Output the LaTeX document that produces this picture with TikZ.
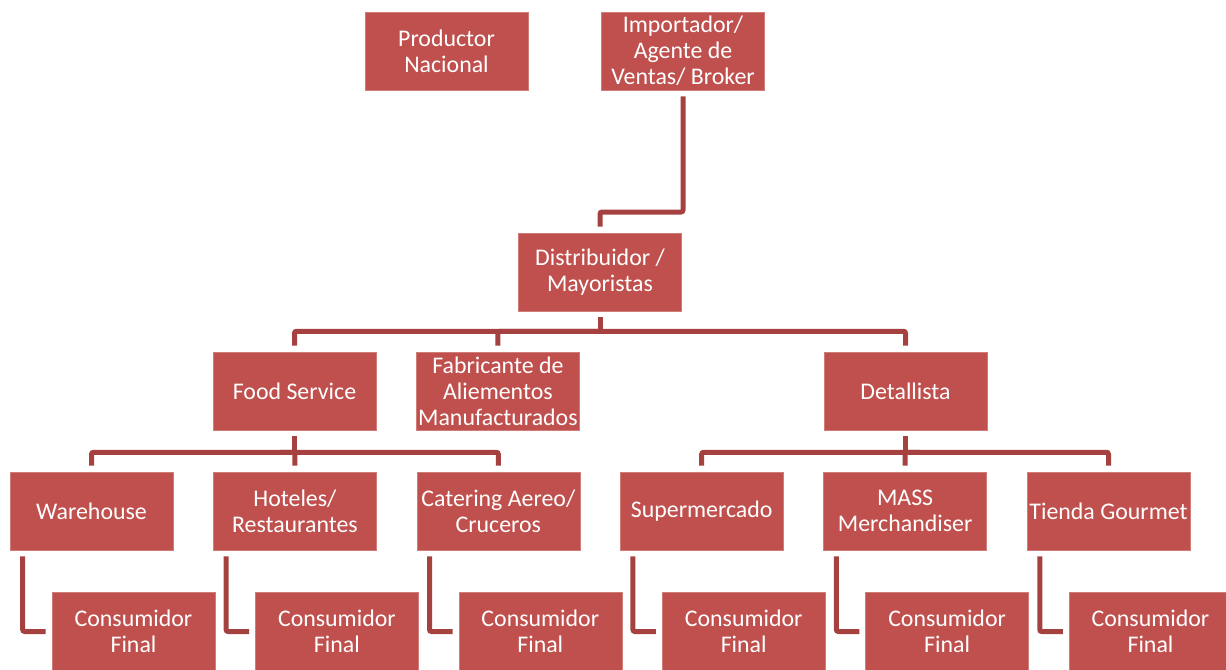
\documentclass[tikz,border=0pt]{standalone}
\usepackage{fontspec}
\setmainfont{Carlito}
\usetikzlibrary{positioning}
\definecolor{boxred}{HTML}{C0504D}
\definecolor{linered}{HTML}{A5423F}

\begin{document}
\begin{tikzpicture}[x=0.75pt, y=-0.75pt, node distance=29.9pt,
    box/.style={draw=boxred!75!white, line width=0.4pt, fill=boxred, text=white, rectangle,
      minimum width=122.25pt, minimum height=58.5pt, inner sep=1pt, align=center,
      font=\fontsize{17.9}{19.5}\selectfont},
    link/.style={draw=linered, line width=3.75pt, rounded corners=1.5pt},
    spaced/.style={shorten <=4.5pt, shorten >=4.5pt}]
        \useasboundingbox (0,0) rectangle (1226,669);

        % Draw the blocks
        \node (prod)   [box] at (446.5,51) {Productor\\Nacional};
        \node (imp)    [box] at (683,51) {Importador/\\Agente de\\Ventas/ Broker};
        \node (dist)   [box] at (600,272) {Distribuidor /\\Mayoristas};
        \node (food)   [box] at (294.5,391) {Food Service};
        \node (fab)    [box, right=of food] {Fabricante de\\Aliementos\\Manufacturados};
        \node (det)    [box] at (905.5,391) {Detallista};
        \node (ware)   [box] at (91.5,511) {Warehouse};
        \node (hotel)  [box, right=of ware] {Hoteles/\\Restaurantes};
        \node (cater)  [box, right=of hotel] {Catering Aereo/\\Cruceros};
        \node (super)  [box, right=of cater] {Supermercado};
        \node (mass)   [box, right=of super] {MASS\\Merchandiser};
        \node (tienda) [box, right=of mass] {Tienda Gourmet};

        % Final consumers
        \node (cons1) [box, below right=31.5pt and 31.5pt of ware.south west] {Consumidor\\Final};
        \node (cons2) [box, below right=31.5pt and 31.5pt of hotel.south west] {Consumidor\\Final};
        \node (cons3) [box, below right=31.5pt and 31.5pt of cater.south west] {Consumidor\\Final};
        \node (cons4) [box, below right=31.5pt and 31.5pt of super.south west] {Consumidor\\Final};
        \node (cons5) [box, below right=31.5pt and 31.5pt of mass.south west] {Consumidor\\Final};
        \node (cons6) [box, below right=31.5pt and 31.5pt of tienda.south west] {Consumidor\\Final};

        % Bend and bus points
        \coordinate (bend) at (600,212);
        \coordinate (busA) at ([yshift=-15pt]dist.south);
        \coordinate (busB) at ([yshift=-16.5pt]food.south);
        \coordinate (busC) at ([yshift=-16.5pt]det.south);

        % Draw the connecting lines
        \draw [link, spaced] (imp.south) |- (bend) -- (dist.north);

        \draw [link, shorten <=4.5pt] (dist.south) -- (busA);
        \draw [link, shorten >=4.5pt] (busA) -| (food.north);
        \draw [link, shorten >=4.5pt] (busA) -| (fab.north);
        \draw [link, shorten >=4.5pt] (busA) -| (det.north);

        \draw [link, shorten <=4.5pt] (food.south) -- (busB);
        \draw [link, shorten >=4.5pt] (busB) -| (ware.north);
        \draw [link, shorten >=4.5pt] (busB) -| (hotel.north);
        \draw [link, shorten >=4.5pt] (busB) -| (cater.north);

        \draw [link, shorten <=4.5pt] (det.south) -- (busC);
        \draw [link, shorten >=4.5pt] (busC) -| (super.north);
        \draw [link, shorten >=4.5pt] (busC) -| (mass.north);
        \draw [link, shorten >=4.5pt] (busC) -| (tienda.north);

        % Lines to the final consumers
        \draw [link, spaced] ([xshift=9.75pt]ware.south west) |- (cons1.west);
        \draw [link, spaced] ([xshift=9.75pt]hotel.south west) |- (cons2.west);
        \draw [link, spaced] ([xshift=9.75pt]cater.south west) |- (cons3.west);
        \draw [link, spaced] ([xshift=9.75pt]super.south west) |- (cons4.west);
        \draw [link, spaced] ([xshift=9.75pt]mass.south west) |- (cons5.west);
        \draw [link, spaced] ([xshift=9.75pt]tienda.south west) |- (cons6.west);
    \end{tikzpicture}
\end{document}
